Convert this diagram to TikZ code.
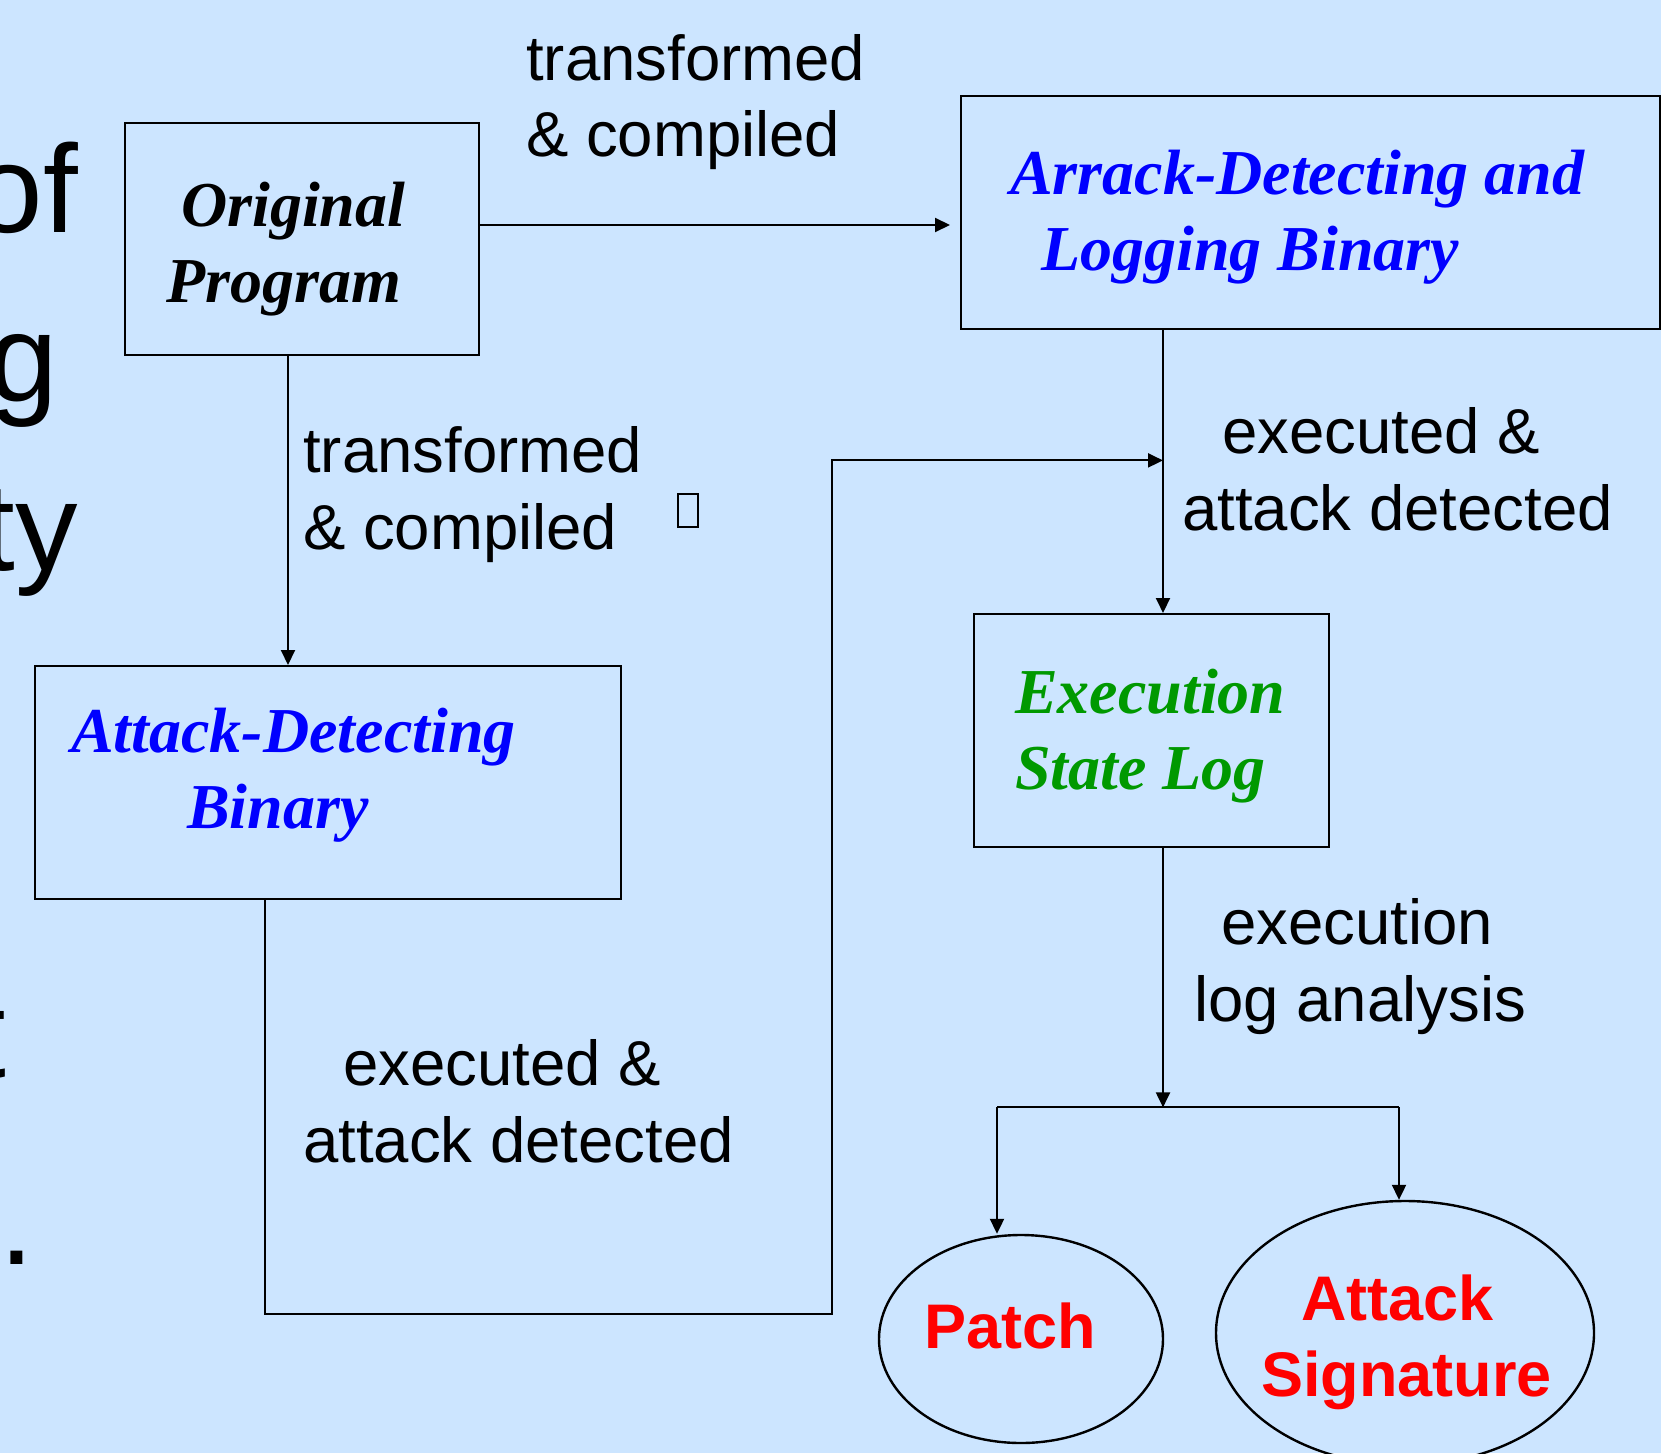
\documentclass[tikz,border=0pt]{standalone}
\usepackage{fontspec}
\setmainfont{Liberation Sans}
\newfontfamily\tnr{Liberation Serif}
\usetikzlibrary{arrows.meta,shapes.geometric,calc}
\definecolor{bg}{RGB}{204,229,255}
\definecolor{myblue}{RGB}{0,0,255}
\definecolor{mygreen}{RGB}{0,153,0}
\definecolor{myred}{RGB}{255,0,0}
\begin{document}
\begin{tikzpicture}[x=1pt,y=-1pt,
  box/.style={draw=black, line width=2.4pt, rectangle, inner sep=0pt, anchor=north west},
  oval/.style={draw=black, line width=2.4pt, ellipse, inner sep=0pt},
  conn/.style={draw=black, line width=2pt, -{Triangle[length=15pt,width=14pt]}},
  plain/.style={draw=black, line width=2pt},
  lbl/.style={font=\fontsize{63.5}{77}\selectfont, text=black, inner sep=0pt, anchor=base west, align=left},
  boxtxt/.style={font=\tnr\bfseries\itshape\fontsize{64}{76}\selectfont, inner sep=0pt, anchor=base west, align=left},
  outtxt/.style={font=\bfseries\fontsize{63}{76}\selectfont, text=myred, inner sep=0pt, anchor=base west, align=left},
  frag/.style={font=\fontsize{125}{150}\selectfont, text=black, inner sep=0pt}
]
\fill[bg] (0,0) rectangle (1661,1453);
\useasboundingbox (0,0) rectangle (1661,1453);
\clip (0,0) rectangle (1661,1453);

% clipped fragments of slide text at the left edge
\node[frag, anchor=base east] (f1) at (78,232) {of};
\node[frag, anchor=base east] (f2) at (58,401) {g};
\node[frag, anchor=base east] (f3) at (78,570) {ty};
\node[frag, anchor=base east] (f4) at (6,1077) {t};
\node[frag, anchor=base west] (f5) at (-1,1264) {.};

% boxes
\node[box, minimum width=354pt, minimum height=232pt] (orig) at (124,122) {};
\node[box, minimum width=699pt, minimum height=233pt] (arrack) at (960,95) {};
\node[box, minimum width=586pt, minimum height=233pt] (attdet) at (34,665) {};
\node[box, minimum width=355pt, minimum height=233pt] (exec) at (973,613) {};
\node[oval, minimum width=284pt, minimum height=208pt] (patch) at (1021,1339) {};
\node[oval, minimum width=378pt, minimum height=264pt] (sig) at (1405,1333) {};

% box texts (base anchor = baseline of last line)
\node[boxtxt, text=black] (origtxt) at (166,302) {\hspace*{15pt}Original\\Program};
\node[boxtxt, text=myblue] (arracktxt) at (1010,270) {Arrack-Detecting and\\\hspace*{31pt}Logging Binary};
\node[boxtxt, text=myblue] (attdettxt) at (71,828) {Attack-Detecting\\\hspace*{116pt}Binary};
\node[boxtxt, text=mygreen] (exectxt) at (1015,789) {Execution\\State Log};
\node[outtxt] (patchtxt) at (924,1348) {Patch};
\node[outtxt] (sigtxt) at (1261,1396) {\hspace*{40pt}Attack\\Signature};

% missing-glyph box
\node[draw=black, line width=1.6pt, minimum width=20pt, minimum height=33pt, inner sep=0pt, anchor=north west] (tofu) at (677,493) {};

% connector labels
\node[lbl] (l1) at (526,157) {transformed\\\& compiled};
\node[lbl] (l2) at (303,549) {transformed\\\& compiled};
\node[lbl] (l3) at (1182,530) {\hspace*{40pt}executed \&\\attack detected};
\node[lbl] (l4) at (303,1162) {\hspace*{40pt}executed \&\\attack detected};
\node[lbl] (l5) at (1194,1021) {\hspace*{27pt}execution\\log analysis};

% connectors
\coordinate (join) at ($(arrack.south west)+(203,130)$);
\coordinate (split) at ($(exec.south west)+(190,259)$);
\coordinate (sl) at ($(split)+(-166,0)$);
\coordinate (sr) at ($(split)+(236,0)$);

\draw[conn] ($(orig.north east)+(0,103)$) -- ($(arrack.north west)+(-10,130)$);
\draw[conn] ($(orig.south west)+(164,0)$) -- ($(attdet.north west)+(254,0)$);
\draw[conn] ($(arrack.south west)+(203,0)$) -- ($(exec.north west)+(190,0)$);
\draw[conn] ($(attdet.south west)+(231,0)$) -- ++(0,414) -| ($(join)+(-331,0)$) -- (join);
\draw[conn] ($(exec.south west)+(190,0)$) -- (split);
\draw[plain] (sl) -- (sr);
\draw[conn] (sl) -- (sl |- patch.north);
\draw[conn] (sr) -- (sr |- sig.north);
\end{tikzpicture}
\end{document}
